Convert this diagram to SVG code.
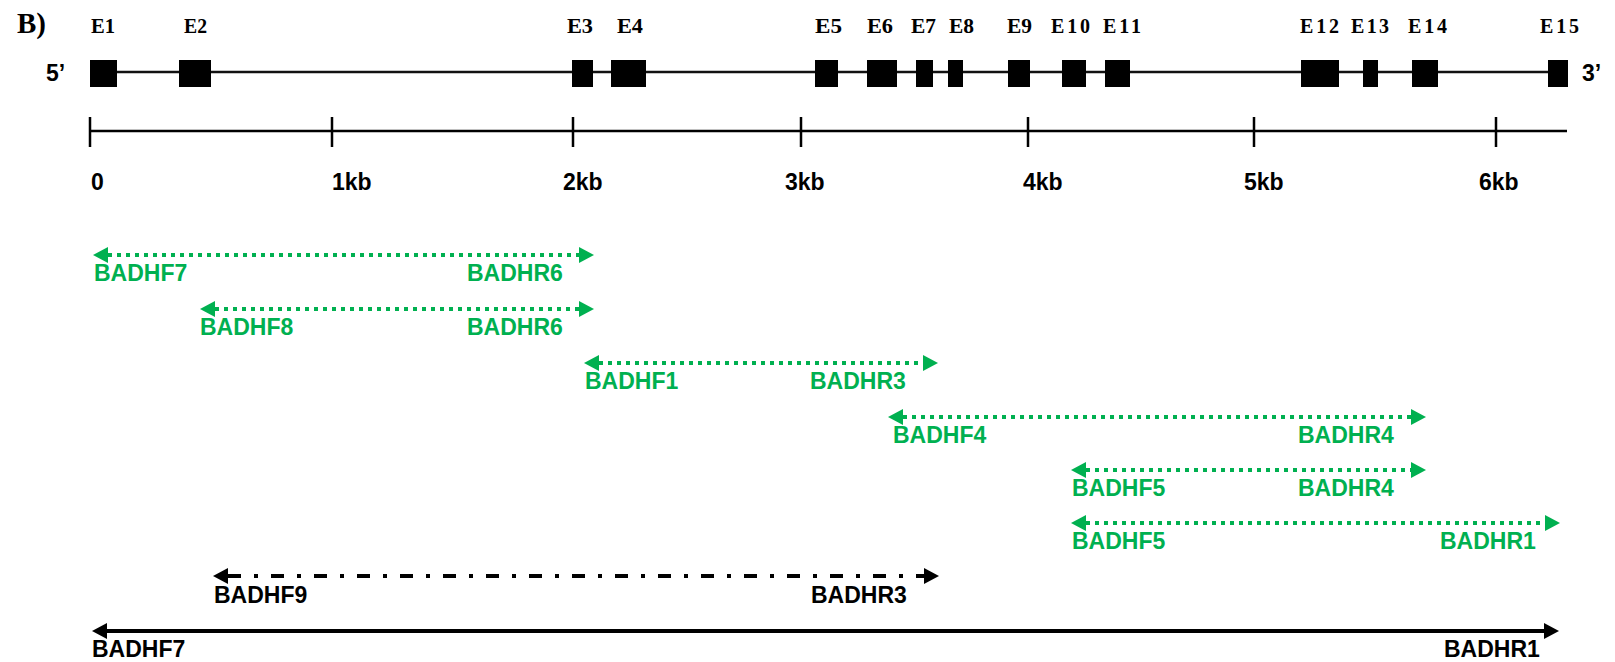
<svg xmlns="http://www.w3.org/2000/svg" width="1615" height="662" viewBox="0 0 1615 662">
<style>
.ex{fill:#000}
.exl{font-family:"Liberation Serif","Times New Roman",serif;font-weight:bold;font-size:20px;fill:#000}
.lab{font-family:"Liberation Sans",Arial,sans-serif;font-weight:bold;font-size:23px}
.g{fill:#00B050}
.k{fill:#000}
.dot{stroke:#00B050;stroke-width:4;stroke-dasharray:4 5;fill:none}
.dd{stroke:#000;stroke-width:4;stroke-dasharray:13 13 4 13;fill:none}
.sol{stroke:#000;stroke-width:4;fill:none}
.ax{stroke:#000;stroke-width:2.5;fill:none}
</style>
<defs>
<marker id="ag" markerUnits="userSpaceOnUse" markerWidth="16" markerHeight="16" refX="0" refY="8" orient="auto-start-reverse" viewBox="0 0 16 16"><path d="M0,0 L15,8 L0,16 Z" fill="#00B050"/></marker>
<marker id="ak" markerUnits="userSpaceOnUse" markerWidth="16" markerHeight="16" refX="0" refY="8" orient="auto-start-reverse" viewBox="0 0 16 16"><path d="M0,0 L15,8 L0,16 Z" fill="#000"/></marker>
</defs>
<rect width="1615" height="662" fill="#fff"/>
<text x="17" y="33" font-family="Liberation Serif,'Times New Roman',serif" font-weight="bold" font-size="29">B)</text>
<g id="gene">
<line x1="90" y1="72" x2="1568" y2="72" stroke="#111" stroke-width="2.5"/>
<text class="lab k" x="46" y="81" font-size="24">5’</text>
<text class="lab k" x="1582" y="81" font-size="24">3’</text>
</g>
<g id="E1"><rect class="ex" x="90" y="60" width="27" height="27"/><text class="exl" x="91" y="33" textLength="24" lengthAdjust="spacingAndGlyphs">E1</text></g>
<g id="E2"><rect class="ex" x="179" y="60" width="32" height="27"/><text class="exl" x="184" y="33" textLength="23" lengthAdjust="spacingAndGlyphs">E2</text></g>
<g id="E3"><rect class="ex" x="572" y="60" width="21" height="27"/><text class="exl" x="567" y="33" textLength="26" lengthAdjust="spacingAndGlyphs">E3</text></g>
<g id="E4"><rect class="ex" x="611" y="60" width="35" height="27"/><text class="exl" x="617" y="33" textLength="26" lengthAdjust="spacingAndGlyphs">E4</text></g>
<g id="E5"><rect class="ex" x="815" y="60" width="23" height="27"/><text class="exl" x="815" y="33" textLength="27" lengthAdjust="spacingAndGlyphs">E5</text></g>
<g id="E6"><rect class="ex" x="867" y="60" width="30" height="27"/><text class="exl" x="867" y="33" textLength="26" lengthAdjust="spacingAndGlyphs">E6</text></g>
<g id="E7"><rect class="ex" x="916" y="60" width="17" height="27"/><text class="exl" x="911" y="33" textLength="25" lengthAdjust="spacingAndGlyphs">E7</text></g>
<g id="E8"><rect class="ex" x="948" y="60" width="15" height="27"/><text class="exl" x="949" y="33" textLength="25" lengthAdjust="spacingAndGlyphs">E8</text></g>
<g id="E9"><rect class="ex" x="1008" y="60" width="22" height="27"/><text class="exl" x="1007" y="33" textLength="25" lengthAdjust="spacingAndGlyphs">E9</text></g>
<g id="E10"><rect class="ex" x="1062" y="60" width="24" height="27"/><text class="exl" x="1051" y="33" textLength="39">E10</text></g>
<g id="E11"><rect class="ex" x="1105" y="60" width="25" height="27"/><text class="exl" x="1103" y="33" textLength="38">E11</text></g>
<g id="E12"><rect class="ex" x="1301" y="60" width="38" height="27"/><text class="exl" x="1300" y="33" textLength="39">E12</text></g>
<g id="E13"><rect class="ex" x="1363" y="60" width="15" height="27"/><text class="exl" x="1351" y="33" textLength="38">E13</text></g>
<g id="E14"><rect class="ex" x="1412" y="60" width="26" height="27"/><text class="exl" x="1408" y="33" textLength="39">E14</text></g>
<g id="E15"><rect class="ex" x="1548" y="60" width="20" height="27"/><text class="exl" x="1540" y="33" textLength="39">E15</text></g>
<g id="scale">
<line class="ax" x1="90" y1="131" x2="1567" y2="131"/>
<path class="ax" d="M90,117V147M332,117V147M573,117V147M801,117V147M1028,117V147M1254,117V147M1496,117V147"/>
<text class="lab k" x="91" y="190">0</text>
<text class="lab k" x="332" y="190">1kb</text>
<text class="lab k" x="563" y="190">2kb</text>
<text class="lab k" x="785" y="190">3kb</text>
<text class="lab k" x="1023" y="190">4kb</text>
<text class="lab k" x="1244" y="190">5kb</text>
<text class="lab k" x="1479" y="190">6kb</text>
</g>
<g id="connectors">
<line class="dot" x1="108" y1="255" x2="579" y2="255" marker-start="url(#ag)" marker-end="url(#ag)"/>
<line class="dot" x1="215" y1="309" x2="579" y2="309" marker-start="url(#ag)" marker-end="url(#ag)"/>
<line class="dot" x1="599" y1="363" x2="923" y2="363" marker-start="url(#ag)" marker-end="url(#ag)"/>
<line class="dot" x1="903" y1="417" x2="1411" y2="417" marker-start="url(#ag)" marker-end="url(#ag)"/>
<line class="dot" x1="1086" y1="470" x2="1411" y2="470" marker-start="url(#ag)" marker-end="url(#ag)"/>
<line class="dot" x1="1086" y1="523" x2="1545" y2="523" marker-start="url(#ag)" marker-end="url(#ag)"/>
<line class="dd" x1="228" y1="576" x2="924" y2="576" marker-start="url(#ak)" marker-end="url(#ak)"/>
<line class="sol" x1="107" y1="631" x2="1544" y2="631" marker-start="url(#ak)" marker-end="url(#ak)"/>
</g>
<g id="amp1"><text class="lab g" x="94" y="281">BADHF7</text><text class="lab g" x="467" y="281">BADHR6</text></g>
<g id="amp2"><text class="lab g" x="200" y="335">BADHF8</text><text class="lab g" x="467" y="335">BADHR6</text></g>
<g id="amp3"><text class="lab g" x="585" y="389">BADHF1</text><text class="lab g" x="810" y="389">BADHR3</text></g>
<g id="amp4"><text class="lab g" x="893" y="443">BADHF4</text><text class="lab g" x="1298" y="443">BADHR4</text></g>
<g id="amp5"><text class="lab g" x="1072" y="496">BADHF5</text><text class="lab g" x="1298" y="496">BADHR4</text></g>
<g id="amp6"><text class="lab g" x="1072" y="549">BADHF5</text><text class="lab g" x="1440" y="549">BADHR1</text></g>
<g id="amp7"><text class="lab k" x="214" y="603">BADHF9</text><text class="lab k" x="811" y="603">BADHR3</text></g>
<g id="amp8"><text class="lab k" x="92" y="657">BADHF7</text><text class="lab k" x="1444" y="657">BADHR1</text></g>
</svg>
